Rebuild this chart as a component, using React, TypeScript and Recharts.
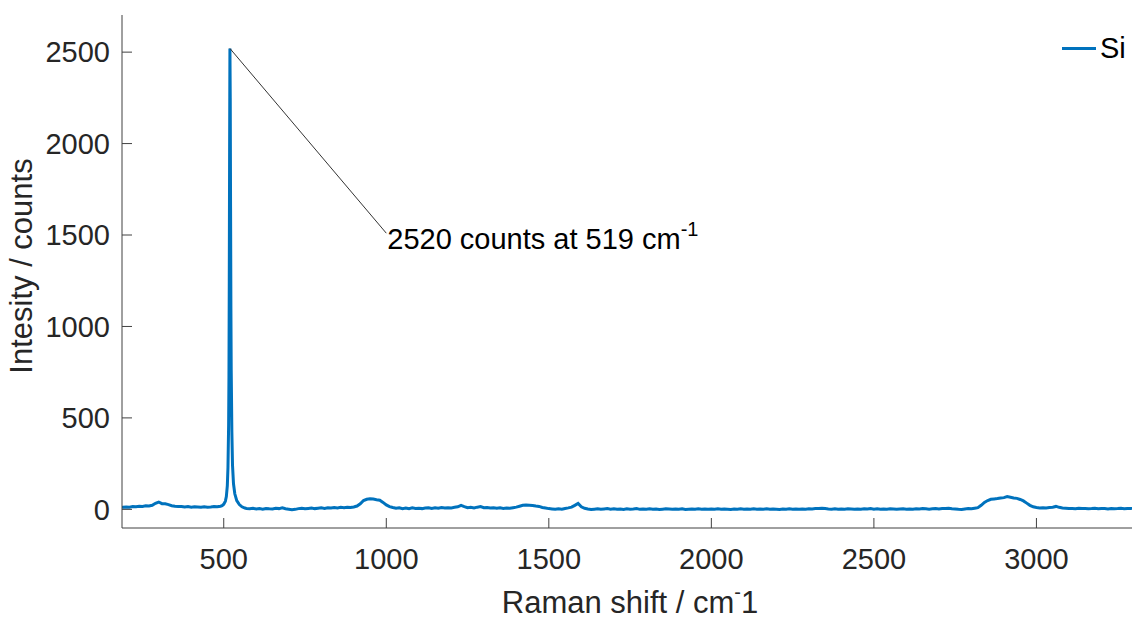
import React from 'react';
import {
  LineChart,
  Line,
  XAxis,
  YAxis,
  ReferenceLine,
  ReferenceDot,
  Legend,
} from 'recharts';

// Raman shift (cm^-1) and measured counts for the Si spectrum
const ramanShift = [
  187, 190, 200, 210, 220, 230, 240, 250, 260, 270, 280, 290, 300, 310, 320, 330, 340, 350, 360, 370,
  380, 390, 400, 410, 420, 430, 440, 450, 460, 470, 480, 490, 495, 500, 505, 508, 511, 513, 515, 516,
  517, 518, 519, 520, 521, 522, 523, 525, 527, 530, 534, 540, 548, 556, 565, 570, 580, 590, 600, 610,
  620, 630, 640, 650, 660, 670, 680, 690, 700, 710, 720, 730, 740, 750, 760, 770, 780, 790, 800, 810,
  820, 830, 840, 850, 860, 870, 880, 890, 900, 910, 920, 930, 940, 950, 960, 970, 980, 990, 1000, 1010,
  1020, 1030, 1040, 1050, 1060, 1070, 1080, 1090, 1100, 1110, 1120, 1130, 1140, 1150, 1160, 1170, 1180, 1190, 1200, 1210,
  1220, 1230, 1240, 1250, 1260, 1270, 1280, 1290, 1300, 1310, 1320, 1330, 1340, 1350, 1360, 1370, 1380, 1390, 1400, 1410,
  1420, 1430, 1440, 1450, 1460, 1470, 1480, 1490, 1500, 1510, 1520, 1530, 1540, 1550, 1560, 1570, 1580, 1590, 1600, 1610,
  1620, 1630, 1640, 1650, 1660, 1670, 1680, 1690, 1700, 1710, 1720, 1730, 1740, 1750, 1760, 1770, 1780, 1790, 1800, 1810,
  1820, 1830, 1840, 1850, 1860, 1870, 1880, 1890, 1900, 1910, 1920, 1930, 1940, 1950, 1960, 1970, 1980, 1990, 2000, 2010,
  2020, 2030, 2040, 2050, 2060, 2070, 2080, 2090, 2100, 2110, 2120, 2130, 2140, 2150, 2160, 2170, 2180, 2190, 2200, 2210,
  2220, 2230, 2240, 2250, 2260, 2270, 2280, 2290, 2300, 2310, 2320, 2330, 2340, 2350, 2360, 2370, 2380, 2390, 2400, 2410,
  2420, 2430, 2440, 2450, 2460, 2470, 2480, 2490, 2500, 2510, 2520, 2530, 2540, 2550, 2560, 2570, 2580, 2590, 2600, 2610,
  2620, 2630, 2640, 2650, 2660, 2670, 2680, 2690, 2700, 2710, 2720, 2730, 2740, 2750, 2760, 2770, 2780, 2790, 2800, 2810,
  2820, 2830, 2840, 2850, 2860, 2870, 2880, 2890, 2900, 2910, 2920, 2930, 2940, 2950, 2960, 2970, 2980, 2990, 3000, 3010,
  3020, 3030, 3040, 3050, 3060, 3070, 3080, 3090, 3100, 3110, 3120, 3130, 3140, 3150, 3160, 3170, 3180, 3190, 3200, 3210,
  3220, 3230, 3240, 3250, 3260, 3270, 3280, 3290, 3294,
];

const siCounts = [
  9, 11, 13, 12, 15, 14, 17, 16, 19, 18, 22, 33, 40, 31, 30, 26, 20, 17, 15, 16,
  13, 15, 12, 14, 13, 11, 14, 12, 13, 15, 14, 17, 20, 28, 45, 70, 130, 230, 460, 720,
  1250, 1950, 2520, 2250, 1650, 1100, 760, 420, 240, 140, 85, 48, 26, 14, 7, 5, 3, 6, 2, 4,
  1, 5, 3, 2, 6, 4, 8, 3, 1, -2, 0, 4, 6, 3, 5, 7, 4, 6, 8, 5,
  9, 7, 10, 8, 11, 9, 12, 10, 13, 18, 30, 48, 55, 58, 56, 52, 50, 38, 24, 15,
  10, 6, 9, 4, 7, 3, 8, 5, 6, 4, 7, 9, 5, 8, 6, 10, 7, 9, 8, 11,
  14, 22, 15, 9, 11, 8, 12, 15, 9, 10, 7, 9, 6, 8, 5, 7, 6, 9, 12, 17,
  22, 24, 23, 21, 18, 16, 10, 7, 4, 2, 0, 3, 1, 5, 8, 12, 22, 32, 14, 6,
  2, -1, 1, 3, 0, 2, 4, 1, 3, 0, 2, -1, 3, 1, 2, 4, 0, 2, 1, 3,
  0, 2, -1, 1, 3, 2, 0, 2, 1, 3, -1, 1, 2, 0, 3, 1, 2, 0, 2, 1,
  3, 0, 2, 1, -1, 2, 1, 3, 0, 2, 1, 3, 0, 2, 1, 3, 0, 2, 1, -1,
  2, 0, 3, 1, 2, 0, 2, 1, 3, 2, 4, 5, 6, 4, 2, 1, 3, 0, 2, 1,
  3, 2, 0, 2, 1, 3, 2, 4, 1, 3, 0, 2, 1, 3, 2, 0, 2, 3, 1, 2,
  0, 3, 2, 4, 3, 1, 3, 4, 2, 5, 4, 6, 3, 2, 0, -1, 2, 4, 3, 6,
  9, 22, 38, 48, 55, 57, 59, 62, 64, 70, 66, 62, 60, 54, 46, 34, 22, 14, 10, 8,
  9, 7, 10, 12, 16, 11, 7, 6, 4, 5, 3, 6, 4, 5, 3, 4, 6, 3, 5, 4,
  2, 5, 3, 4, 6, 3, 4, 5, 4,
];

const xTicks = [500, 1000, 1500, 2000, 2500, 3000];
const yTicks = [0, 500, 1000, 1500, 2000, 2500];

const peak = { shift: 519, counts: 2520 };
const calloutEnd = { shift: 1000, counts: 1510 };

const data = ramanShift.map((x, i) => ({ x, si: siCounts[i] }));

const FONT = '"Liberation Sans", Arial, Helvetica, sans-serif';
const AXIS = '#404040';
const BLUE = '#0072BD';

function XLabel() {
  return (
    <text x={630} y={613} textAnchor="middle" fontFamily={FONT} fontSize={31} fill="#262626">
      Raman shift / cm
      <tspan fontSize={20} dy={-14}>-</tspan>
      <tspan fontSize={31} dy={14}>1</tspan>
    </text>
  );
}

function YLabel() {
  return (
    <text
      x={32}
      y={266}
      transform="rotate(-90 32 266)"
      textAnchor="middle"
      fontFamily={FONT}
      fontSize={31}
      fill="#262626"
    >
      Intesity / counts
    </text>
  );
}

function CalloutText(props: any) {
  const vb = props.viewBox || {};
  const x = (vb.x || 0) + (vb.width || 0) / 2;
  const y = (vb.y || 0) + (vb.height || 0) / 2;
  return (
    <text x={x + 1} y={y + 16} fontFamily={FONT} fontSize={29} fill="#000">
      2520 counts at 519 cm
      <tspan fontSize={20} dy={-13}>-1</tspan>
    </text>
  );
}

function LegendBox() {
  return (
    <div style={{ display: 'flex', alignItems: 'center', fontFamily: FONT, fontSize: 29, color: '#000' }}>
      <div style={{ width: 34, height: 3, background: BLUE, marginRight: 4 }} />
      <span>Si</span>
    </div>
  );
}

export default function App() {
  return (
    <div style={{ position: 'absolute', left: 0, top: 0, width: 1132, height: 619, background: '#fff', overflow: 'hidden' }}>
      <LineChart width={1132} height={619} data={data} margin={{ top: 15, right: 0, bottom: 0, left: 0 }}>
        <XAxis
          xAxisId="bottom"
          dataKey="x"
          type="number"
          domain={[187, 3294]}
          allowDataOverflow
          ticks={xTicks}
          height={91}
          tickSize={-10}
          tickMargin={30}
          stroke={AXIS}
          tick={{ fill: '#262626', fontSize: 29, fontFamily: FONT }}
          label={<XLabel />}
        />
        <XAxis
          xAxisId="top"
          orientation="top"
          dataKey="x"
          type="number"
          domain={[187, 3294]}
          allowDataOverflow
          ticks={xTicks}
          height={0}
          tickSize={-10}
          stroke={AXIS}
          tickFormatter={() => ''}
        />
        <YAxis
          yAxisId="left"
          type="number"
          domain={[-102, 2703]}
          allowDataOverflow
          ticks={yTicks}
          width={122}
          tickSize={-10}
          tickMargin={22}
          stroke={AXIS}
          tick={{ fill: '#262626', fontSize: 29, fontFamily: FONT }}
          label={<YLabel />}
        />
        <YAxis
          yAxisId="right"
          orientation="right"
          type="number"
          domain={[-102, 2703]}
          allowDataOverflow
          ticks={yTicks}
          width={0}
          tickSize={-10}
          stroke={AXIS}
          tickFormatter={() => ''}
        />
        <Line
          xAxisId="bottom"
          yAxisId="left"
          type="linear"
          dataKey="si"
          name="Si"
          stroke={BLUE}
          strokeWidth={3}
          dot={false}
          isAnimationActive={false}
        />
        <ReferenceLine
          xAxisId="bottom"
          yAxisId="left"
          segment={[
            { x: peak.shift, y: peak.counts },
            { x: calloutEnd.shift, y: calloutEnd.counts },
          ]}
          stroke="#333"
          strokeWidth={1}
          ifOverflow="visible"
        />
        <ReferenceDot
          xAxisId="bottom"
          yAxisId="left"
          x={calloutEnd.shift}
          y={calloutEnd.counts}
          r={0}
          fill="none"
          stroke="none"
          ifOverflow="visible"
          label={<CalloutText />}
        />
        <Legend
          layout="horizontal"
          verticalAlign="middle"
          align="center"
          content={<LegendBox />}
          wrapperStyle={{ position: 'absolute', left: 1062, top: 32, width: 70 }}
        />
      </LineChart>
    </div>
  );
}
